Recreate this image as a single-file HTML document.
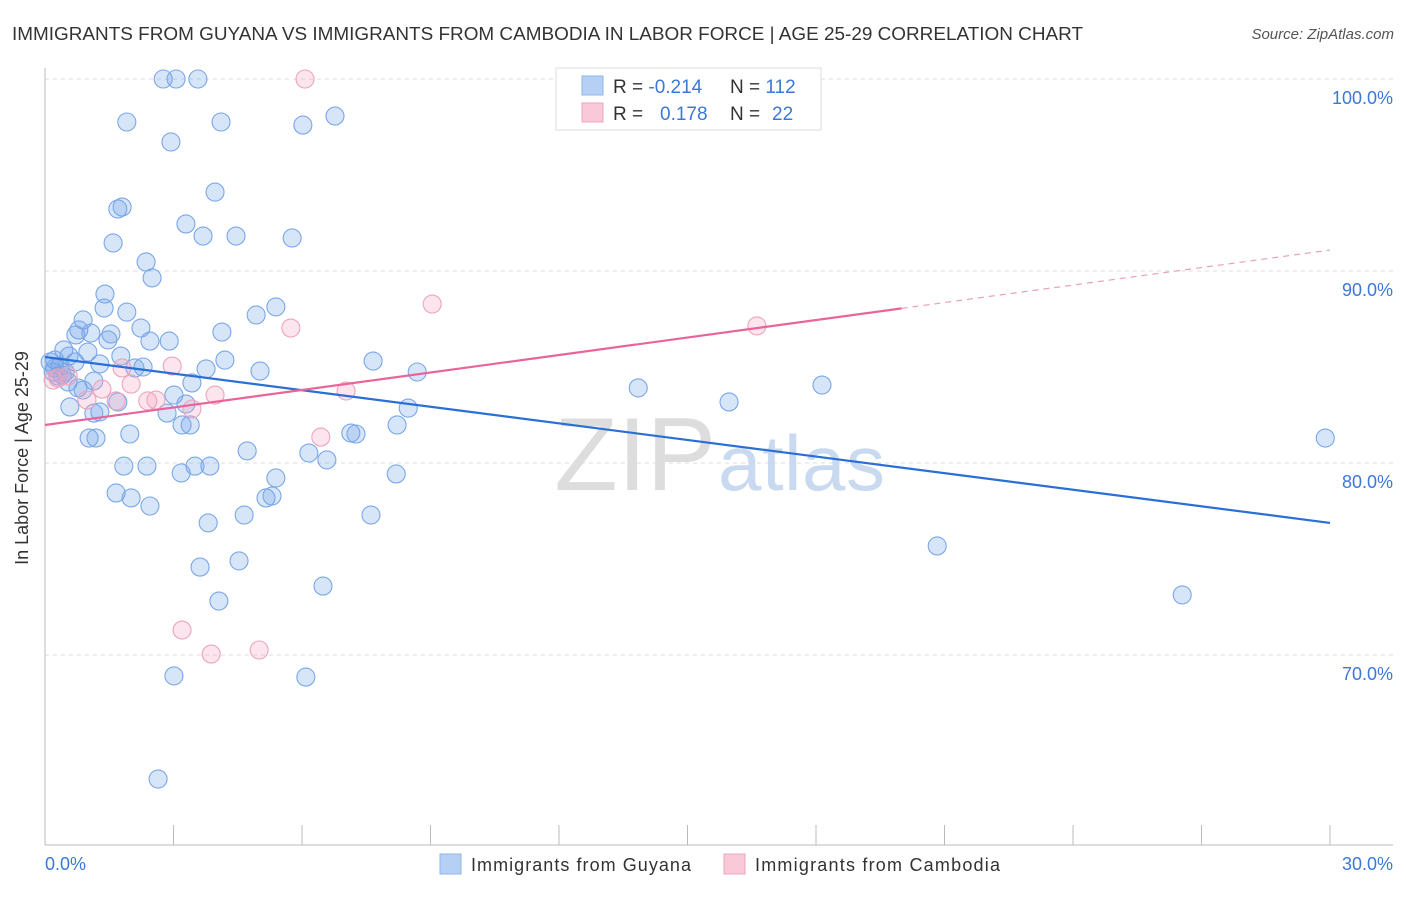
<!DOCTYPE html>
<html><head><meta charset="utf-8"><style>
body{margin:0;background:#fff;font-family:"Liberation Sans",sans-serif;}
svg text{font-family:"Liberation Sans",sans-serif;}
</style></head><body>
<svg id="chart" width="1406" height="892">
<text x="12" y="40" font-size="18" fill="#333" textLength="1071" lengthAdjust="spacingAndGlyphs">IMMIGRANTS FROM GUYANA VS IMMIGRANTS FROM CAMBODIA IN LABOR FORCE | AGE 25-29 CORRELATION CHART</text>
<text x="1394" y="39" font-size="15" fill="#555" font-style="italic" text-anchor="end">Source: ZipAtlas.com</text>
<g id="grid"></g>
<text x="716" y="490" font-size="104" fill="#ddd" text-anchor="end" font-family="Liberation Serif">ZIP</text>
<text x="718" y="490" font-size="78" fill="#c9daf0" textLength="167">atlas</text>
<line x1="45" y1="68" x2="45" y2="845" stroke="#bbb"/>
<line x1="45" y1="845" x2="1393" y2="845" stroke="#bbb"/>
<g id="ticks"></g>
<g id="pts"></g>
<g id="trend"></g>
<text x="28" y="458" font-size="18" fill="#333" text-anchor="middle" transform="rotate(-90 28 458)">In Labor Force | Age 25-29</text>
<text x="45" y="870" font-size="18" fill="#3b78d8">0.0%</text>
<text x="1393" y="870" font-size="18" fill="#3b78d8" text-anchor="end">30.0%</text>
<g>
<rect x="556" y="68" width="265" height="62" fill="#fff" stroke="#ddd"/>
<rect x="582" y="76" width="21" height="19" fill="#b6d0f5" stroke="#8fb3ea"/>
<rect x="582" y="103" width="21" height="19" fill="#f9c9d7" stroke="#eba6bd"/>
<text x="613" y="93" font-size="19" fill="#333">R = <tspan fill="#3b78d8">-0.214</tspan></text>
<text x="730" y="93" font-size="19" fill="#333">N = <tspan fill="#3b78d8">112</tspan></text>
<text x="613" y="120" font-size="19" fill="#333">R = <tspan fill="#3b78d8" x="660">0.178</tspan></text>
<text x="730" y="120" font-size="19" fill="#333">N = <tspan fill="#3b78d8" x="772">22</tspan></text>
</g>
<g>
<rect x="440" y="854" width="21" height="20" fill="#b6d0f5" stroke="#8fb3ea"/>
<text x="471" y="871" font-size="18" fill="#333" textLength="220">Immigrants from Guyana</text>
<rect x="724" y="854" width="21" height="20" fill="#f9c9d7" stroke="#eba6bd"/>
<text x="755" y="871" font-size="18" fill="#333" textLength="245">Immigrants from Cambodia</text>
</g>
</svg>
<script>
const yTicks=[100,90,80,70];
const blueX=[2.76,3.06,3.57,1.91,4.11,6.02,6.77,2.94,3.97,1.70,1.80,3.29,3.69,4.46,5.77,1.59,2.36,2.50,1.40,5.39,1.38,1.91,4.93,0.89,2.24,4.13,0.79,0.72,1.07,1.54,1.47,2.90,2.45,0.44,1.00,1.77,4.20,7.66,0.56,0.70,1.28,2.29,2.10,3.76,5.02,8.69,0.23,0.35,0.19,0.30,0.54,1.14,0.77,0.89,3.43,3.01,13.85,18.14,15.97,0.58,2.85,3.29,1.28,1.14,1.70,8.48,1.03,1.19,3.20,3.39,1.98,7.14,7.26,8.22,29.89,4.72,6.16,6.58,1.84,2.38,3.50,3.85,3.18,5.39,8.20,1.66,2.01,2.45,5.16,5.30,4.65,7.61,3.81,20.83,4.53,3.62,6.49,4.06,26.55,3.01,6.09,2.64,0.12,0.23,0.47,0.40];
const blueY=[100,100,100,97.76,97.76,97.6,98.07,96.72,94.11,93.23,93.33,92.45,91.82,91.82,91.72,91.46,90.47,89.64,88.80,88.13,88.07,87.86,87.71,87.45,87.03,86.82,86.93,86.67,86.77,86.72,86.41,86.35,86.35,85.89,85.78,85.57,85.36,85.31,85.57,85.26,85.16,85.0,84.95,84.90,84.79,84.74,85.36,85.05,84.74,84.53,84.22,84.27,83.91,83.80,84.17,83.54,83.91,84.06,83.18,82.92,82.60,83.07,82.66,82.60,83.18,82.86,81.30,81.30,81.98,81.98,81.51,81.56,81.51,81.98,81.30,80.63,80.52,80.16,79.84,79.84,79.84,79.84,79.48,79.22,79.43,78.44,78.18,77.76,78.18,78.28,77.29,77.29,76.88,75.68,74.90,74.58,73.59,72.81,73.13,68.91,68.85,63.54,85.26,84.95,84.74,84.58];
const pinkX=[6.07,9.04,16.62,5.74,2.97,1.80,2.01,1.33,3.97,7.03,0.54,0.30,0.19,0.98,1.66,2.40,2.59,3.43,6.44,3.20,3.88,5.00];
const pinkY=[100,88.28,87.14,87.03,85.05,84.95,84.11,83.85,83.54,83.75,84.53,84.43,84.32,83.28,83.23,83.23,83.28,82.81,81.35,71.30,70.05,70.26];
const blueTrend=[85.52,76.88];
const pinkTrend=[81.98,91.09];
const pinkSolidEnd=20;
const NS='http://www.w3.org/2000/svg';
const sx=v=>45+v*42.833, sy=v=>79+(100-v)*19.2;
function mk(tag,attrs,parent){const e=document.createElementNS(NS,tag);for(const k in attrs)e.setAttribute(k,attrs[k]);document.getElementById(parent).appendChild(e);return e;}
yTicks.forEach(t=>{
  const l=mk('line',{x1:45,x2:1393,y1:sy(t),y2:sy(t),stroke:'#ddd','stroke-dasharray':'4,4'},'grid');
  
  
  const tx=mk('text',{x:1393,y:sy(t)+25,'font-size':18,fill:'#3b78d8','text-anchor':'end'},'grid');
  tx.textContent=t.toFixed(1)+'%';
  
  
});
for(let i=0;i<=10;i++){
  const x=sx(i*3);
  const l=mk('line',{x1:x,x2:x,y1:825,y2:845,stroke:'#bbb'},'ticks');
  
  
}
blueX.forEach((v,i)=>{
  const c=mk('circle',{cx:sx(v),cy:sy(blueY[i]),r:9,fill:'rgba(110,160,235,0.28)',stroke:'#7aa7e8','stroke-width':1.1},'pts');
  
  
});
pinkX.forEach((v,i)=>{
  const c=mk('circle',{cx:sx(v),cy:sy(pinkY[i]),r:9,fill:'rgba(245,160,190,0.28)',stroke:'#eea3bc','stroke-width':1.1},'pts');
  
  
});
const b=mk('line',{x1:sx(0),y1:sy(blueTrend[0]),x2:sx(30),y2:sy(blueTrend[1]),stroke:'#2a6fd6','stroke-width':2.2},'trend');


const pm=pinkTrend[0]+(pinkTrend[1]-pinkTrend[0])*pinkSolidEnd/30;
const p=mk('line',{x1:sx(0),y1:sy(pinkTrend[0]),x2:sx(pinkSolidEnd),y2:sy(pm),stroke:'#e8649a','stroke-width':2.2},'trend');


const pd=mk('line',{x1:sx(pinkSolidEnd),y1:sy(pm),x2:sx(30),y2:sy(pinkTrend[1]),stroke:'#e8a0bb','stroke-width':1.2,'stroke-dasharray':'6,5'},'trend');


</script>
</body></html>
